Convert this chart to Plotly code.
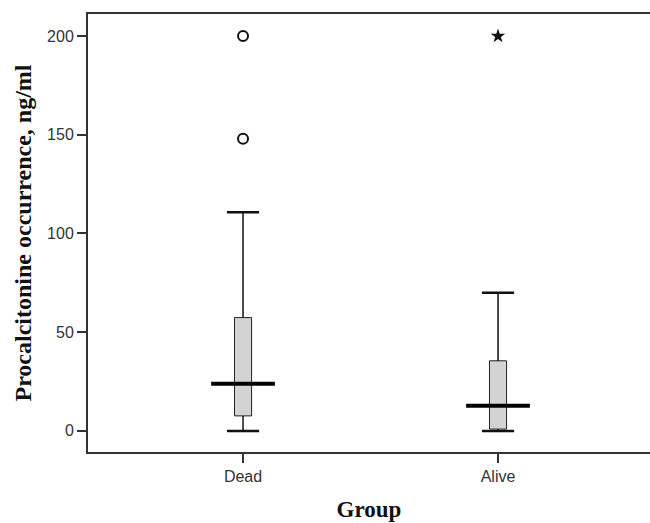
import plotly.graph_objects as go

groups = ["Dead", "Alive"]
xpos = [0, 1]
q1 = [7.6, 0.9]
median = [23.9, 12.7]
q3 = [57.4, 35.5]
lower_whisker = [0, 0]
upper_whisker = [110.7, 70]
outliers_x = [0, 0]
outliers_y = [200, 148]
extreme_x = [1]
extreme_y = [200]

box_w = 0.067
cap_half = 0.063
med_half = 0.125

fig = go.Figure()

# boxes
fig.add_trace(go.Bar(x=xpos, y=[b - a for a, b in zip(q1, q3)], base=q1, width=box_w,
                     marker=dict(color="#d3d3d3", line=dict(color="#222", width=1)),
                     hoverinfo="skip", showlegend=False))

# whiskers (vertical)
wx, wy = [], []
for x, lo, a, b, hi in zip(xpos, lower_whisker, q1, q3, upper_whisker):
    wx += [x, x, None, x, x, None]
    wy += [lo, a, None, b, hi, None]
fig.add_trace(go.Scatter(x=wx, y=wy, mode="lines", line=dict(color="#111", width=1.5),
                         showlegend=False, hoverinfo="skip"))

# caps
cx, cy = [], []
for x, lo, hi in zip(xpos, lower_whisker, upper_whisker):
    cx += [x - cap_half, x + cap_half, None, x - cap_half, x + cap_half, None]
    cy += [lo, lo, None, hi, hi, None]
fig.add_trace(go.Scatter(x=cx, y=cy, mode="lines", line=dict(color="#111", width=2.5),
                         showlegend=False, hoverinfo="skip"))

# medians
mx, my = [], []
for x, m in zip(xpos, median):
    mx += [x - med_half, x + med_half, None]
    my += [m, m, None]
fig.add_trace(go.Scatter(x=mx, y=my, mode="lines", line=dict(color="#000", width=4),
                         showlegend=False, hoverinfo="skip"))

# outliers
fig.add_trace(go.Scatter(x=outliers_x, y=outliers_y, mode="markers",
                         marker=dict(symbol="circle-open", size=10, color="#111", line=dict(width=2)),
                         showlegend=False))
fig.add_trace(go.Scatter(x=extreme_x, y=extreme_y, mode="markers",
                         marker=dict(symbol="star", size=11, color="#111"),
                         showlegend=False))

fig.update_layout(
    width=650, height=523,
    margin=dict(l=88, r=0, t=14, b=71),
    paper_bgcolor="white", plot_bgcolor="white",
    showlegend=False,
    xaxis=dict(
        range=[-0.608, 1.596], tickvals=xpos, ticktext=groups,
        showgrid=False, zeroline=False,
        showline=True, linecolor="#333", linewidth=2, mirror=True,
        ticks="outside", ticklen=9, tickcolor="#333", tickwidth=1.5,
        tickfont=dict(family="Liberation Sans, Arial", size=16, color="#333"),
        title=dict(text="<b>Group</b>", font=dict(family="Liberation Serif, Times New Roman", size=23, color="#111"),
                   standoff=17),
    ),
    yaxis=dict(
        range=[-10.7, 211.2], tickvals=[0, 50, 100, 150, 200],
        showgrid=False, zeroline=False,
        showline=True, linecolor="#333", linewidth=2,
        ticks="outside", ticklen=9, tickcolor="#333", tickwidth=1.5,
        tickfont=dict(family="Liberation Sans, Arial", size=16, color="#333"),
        title=dict(text="<b>Procalcitonine occurrence, ng/ml</b>",
                   font=dict(family="Liberation Serif, Times New Roman", size=24, color="#111"),
                   standoff=9),
    ),
)

fig.write_html("out.html", config={"displayModeBar": False},
               post_script="document.body.style.margin='0';document.body.style.overflow='hidden';")
